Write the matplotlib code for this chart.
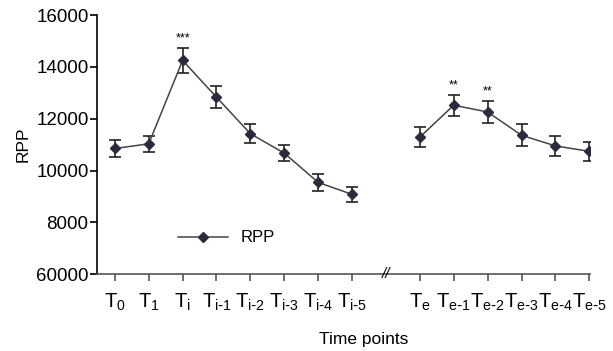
import matplotlib
matplotlib.use("Agg")
import matplotlib.pyplot as plt
import numpy as np

# RPP at each time point (mean and SEM)
labels = ["T$_0$", "T$_1$", "T$_i$", r"T$_{i\text{-}1}$", r"T$_{i\text{-}2}$", r"T$_{i\text{-}3}$",
          r"T$_{i\text{-}4}$", r"T$_{i\text{-}5}$", "T$_e$", r"T$_{e\text{-}1}$", r"T$_{e\text{-}2}$",
          r"T$_{e\text{-}3}$", r"T$_{e\text{-}4}$", r"T$_{e\text{-}5}$"]
pos = [0, 1, 2, 3, 4, 5, 6, 7, 9, 10, 11, 12, 13, 14]
rpp = [10850, 11030, 14250, 12830, 11420, 10670, 9540, 9080,
       11290, 12520, 12260, 11360, 10950, 10740]
sem = [320, 320, 490, 420, 360, 310, 320, 300,
       380, 400, 440, 420, 390, 370]
stars = {2: "***", 10: "**", 11: "**"}

plt.rcParams['font.family'] = ['Liberation Sans', 'DejaVu Sans']
plt.rcParams['mathtext.default'] = 'regular'

fig = plt.figure(figsize=(6.13, 3.51), dpi=100)
ax = fig.add_axes([0.158, 0.219, 0.805, 0.738])

for idx in (slice(0, 8), slice(8, 14)):
    ax.errorbar(pos[idx], rpp[idx], yerr=sem[idx], color="#444444", lw=1.1,
                ecolor="#222222", elinewidth=1.2, capsize=4, capthick=1.2,
                marker="D", ms=5.5, mfc="#2b2b3d", mec="#2b2b3d", zorder=3)

for k, s in stars.items():
    i = pos.index(k)
    ax.text(k, rpp[i] + sem[i] + 120, s, ha="center", va="bottom", fontsize=9)

# legend
ax.plot([1.86, 3.34], [7430, 7430], color="#444444", lw=1.1)
ax.plot([2.6], [7430], marker="D", ms=5.5, color="#2b2b3d")
ax.text(3.7, 7430, "RPP", va="center", fontsize=12)

ax.set_xlim(-0.53, 14.03)
ax.set_ylim(6000, 16000)
ax.set_xticks(pos)
ax.set_xticklabels(labels, fontsize=14.5)
ax.set_yticks([6000, 8000, 10000, 12000, 14000, 16000])
ax.set_yticklabels(["60000", "8000", "10000", "12000", "14000", "16000"], fontsize=13.5)
ax.tick_params(axis="x", length=5, width=1.2, color="#555555", pad=8)
ax.tick_params(axis="y", length=5, width=1.2, pad=1)

for sp in ("top", "right"):
    ax.spines[sp].set_visible(False)
ax.spines["left"].set_linewidth(1.2)
ax.spines["bottom"].set_linewidth(1.2)
ax.spines["bottom"].set_color("#555555")

ax.text(8, 6000, "//", ha="center", va="center", fontsize=11, style="italic",
        clip_on=False)

ax.set_xlabel("Time points", fontsize=12.5)
ax.xaxis.set_label_coords(0.54, -0.225)
ax.set_ylabel("RPP", fontsize=12.5, labelpad=4)

fig.savefig("out.png", dpi=100)
